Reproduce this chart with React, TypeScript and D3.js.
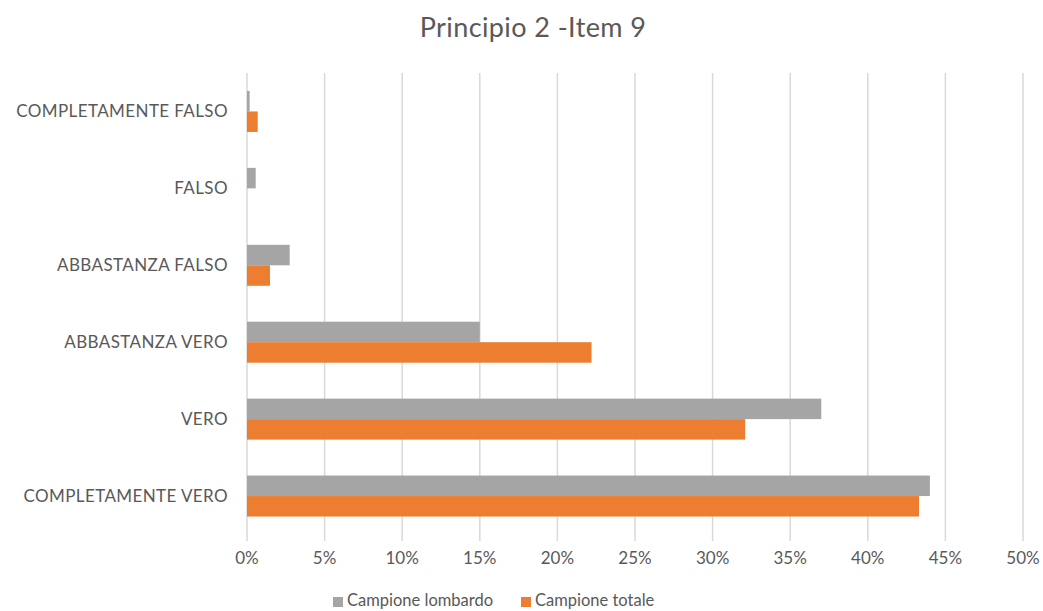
import * as d3 from 'd3';

const categories = [
  'COMPLETAMENTE FALSO',
  'FALSO',
  'ABBASTANZA FALSO',
  'ABBASTANZA VERO',
  'VERO',
  'COMPLETAMENTE VERO',
];
const lombardo = [0.17, 0.56, 2.75, 15.0, 37.0, 44.0];
const totale = [0.69, 0, 1.48, 22.2, 32.1, 43.3];
const xTicks = [0, 5, 10, 15, 20, 25, 30, 35, 40, 45, 50];
const seriesNames = ['Campione lombardo', 'Campione totale'];

const W = 1043;
const H = 611;
const GREY = '#A5A5A5';
const ORANGE = '#ED7D31';
const TEXT = '#595959';
const FONT = 'Lato, "Open Sans", sans-serif';

function App() {
  const x = d3.scaleLinear().domain([0, 50]).range([247, 1023]);
  const y = d3.scaleBand().domain(categories).range([73, 534.5]);
  const barH = 20.5;

  const series = [
    { name: seriesNames[0], values: lombardo, color: GREY, off: -barH },
    { name: seriesNames[1], values: totale, color: ORANGE, off: 0 },
  ];

  return (
    <svg width={W} height={H} style={{ position: 'absolute', left: 0, top: 0, background: '#fff' }} fontFamily={FONT}>
      <rect width={W} height={H} fill="#fff" />
      <text x={533} y={37} textAnchor="middle" fontSize={27} fill={TEXT} letterSpacing={0.4}>
        Principio 2 -Item 9
      </text>

      {xTicks.map((t) => (
        <g key={t}>
          <line x1={x(t)} x2={x(t)} y1={73} y2={541} stroke="#D9D9D9" strokeWidth={1.5} />
          <text x={x(t)} y={564} textAnchor="middle" fontSize={17} fill={TEXT}>
            {t}%
          </text>
        </g>
      ))}

      {series.map((s) =>
        s.values.map((v, i) => {
          const c = y(categories[i])! + y.bandwidth() / 2;
          return (
            <rect
              key={s.name + i}
              x={x(0)}
              y={c + s.off}
              width={Math.max(0, x(v) - x(0))}
              height={barH}
              fill={s.color}
            />
          );
        })
      )}

      {categories.map((c) => (
        <text
          key={c}
          x={228}
          y={y(c)! + y.bandwidth() / 2}
          dy="0.35em"
          textAnchor="end"
          fontSize={17}
          letterSpacing={0.4}
          fill={TEXT}
        >
          {c}
        </text>
      ))}

      <g fontSize={16.5} fill={TEXT}>
        <rect x={333} y={597} width={10} height={10} fill={GREY} />
        <text x={347} y={606}>{seriesNames[0]}</text>
        <rect x={521} y={597} width={10} height={10} fill={ORANGE} />
        <text x={535} y={606}>{seriesNames[1]}</text>
      </g>
    </svg>
  );
}

export default App;
